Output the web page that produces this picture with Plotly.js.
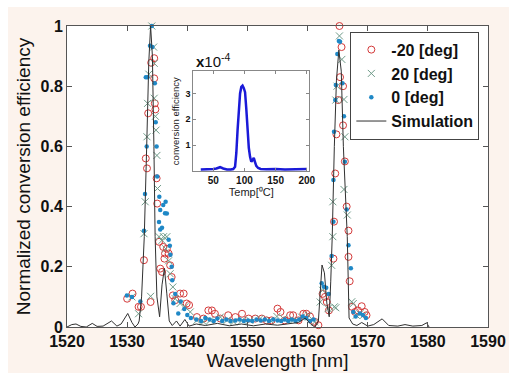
<!DOCTYPE html>
<html><head><meta charset="utf-8">
<script src="https://cdn.plot.ly/plotly-3.0.1.min.js"></script>
<style>html,body{margin:0;padding:0;background:#fff}#c{width:509px;height:373px}</style>
</head><body><div id="c"></div>
<script>
// Simulation curve
const simWl = [1520,1520.8,1521.5,1522.3,1523.2,1524.2,1525.0,1526.0,1527.4,1528.3,1529.0,1530.1,1530.8,1531.3,1531.8,1532.0,1532.4,1532.85,1533.25,1533.6,1533.9,1534.2,1534.45,1534.65,1534.95,1535.4,1535.8,1536.2,1536.6,1537.0,1537.5,1538.2,1538.8,1539.6,1540.3,1541.5,1543,1545,1547,1549,1551,1553,1555,1557,1558.5,1559.6,1560.5,1561.2,1561.8,1562.4,1562.8,1563.2,1563.6,1563.85,1564.1,1564.45,1564.8,1565.2,1565.6,1565.95,1566.6,1566.9,1567.5,1568.2,1569.0,1570.0,1571.0,1572.4,1573.5,1575.0,1576.2,1577.5,1579.0,1579.8,1580.2];
const simVal = [0,0.008,0.01,0.002,0.0,0.012,0.002,0.003,0.02,0.003,0.01,0.045,0.015,0.0,0.01,0.02,0.1,0.3,0.6,0.88,1.0,0.9,0.6,0.3,0.1,0.034,0.14,0.195,0.11,0.02,0.005,0.02,0.003,0.025,0.003,0.01,0.005,0.012,0.004,0.01,0.004,0.01,0.006,0.012,0.015,0.03,0.01,0.0,0.02,0.206,0.18,0.08,0.034,0.15,0.3,0.6,0.82,0.92,0.85,0.6,0.3,0.03,0.01,0.005,0.015,0.003,0.008,0.027,0.005,0.003,0.008,0.003,0.005,0.014,0.0];

// -20 deg (red circles)
const wlM20 = [1530.0,1530.9,1531.9,1532.3,1532.8,1533.1,1533.3,1533.5,1533.9,1534.0,1534.5,1534.5,1534.6,1534.7,1534.9,1535.0,1535.3,1535.5,1535.8,1536.0,1536.2,1536.3,1536.6,1536.9,1537.15,1537.4,1537.6,1538.0,1538.8,1539.4,1539.9,1540.3,1541.6,1542.7,1543.5,1544.1,1544.6,1545.5,1546.8,1548.0,1549.1,1550.2,1551.3,1552.4,1553.2,1554.0,1555.0,1555.5,1556.2,1557.1,1557.6,1558.5,1559.3,1559.8,1560.4,1561.2,1561.8,1562.5,1562.9,1563.2,1563.55,1564.3,1564.4,1564.6,1564.8,1565.1,1565.3,1565.4,1565.65,1565.9,1565.9,1566.2,1566.5,1566.8,1566.8,1567.0,1567.4,1567.9,1568.4,1569.0,1569.5,1569.8];
const valM20 = [0.094,0.111,0.067,0.067,0.222,0.56,0.527,0.71,0.083,0.878,0.893,0.826,0.743,0.723,0.494,0.41,0.283,0.194,0.183,0.266,0.227,0.244,0.26,0.244,0.205,0.166,0.105,0.089,0.111,0.111,0.078,0.073,0.033,0.028,0.055,0.055,0.044,0.028,0.039,0.033,0.044,0.028,0.028,0.028,0.022,0.022,0.061,0.05,0.022,0.039,0.039,0.022,0.044,0.044,0.035,0.017,0.006,0.11,0.10,0.083,0.055,0.227,0.35,0.51,0.64,0.754,1.0,0.83,0.93,0.8,0.67,0.55,0.40,0.32,0.233,0.152,0.067,0.05,0.055,0.069,0.05,0.039];

// 20 deg (grey crosses)
const wlP20 = [1530.8,1531.9,1532.8,1533.0,1533.3,1533.4,1533.6,1533.9,1534.1,1534.4,1534.5,1534.5,1534.7,1534.8,1534.95,1535.05,1535.3,1535.8,1536.05,1536.4,1536.6,1536.9,1537.15,1537.6,1538.0,1538.8,1539.6,1540.5,1541.6,1542.7,1543.8,1545.5,1546.6,1547.7,1549.1,1550.4,1552.1,1553.8,1554.9,1556.0,1557.6,1559.0,1560.1,1561.2,1562.1,1562.5,1563.4,1564.0,1564.2,1564.2,1564.45,1564.7,1564.7,1564.9,1565.3,1565.7,1566.05,1566.05,1566.2,1566.6,1567.35,1567.6,1568.1,1568.7,1569.3];
const valP20 = [0.1,0.044,0.31,0.416,0.632,0.743,0.84,0.102,1.0,0.93,0.876,0.76,0.70,0.654,0.57,0.46,0.30,0.288,0.30,0.26,0.30,0.22,0.177,0.133,0.094,0.078,0.067,0.05,0.022,0.017,0.022,0.033,0.022,0.017,0.022,0.022,0.028,0.022,0.035,0.028,0.022,0.033,0.039,0.017,0.083,0.122,0.061,0.205,0.30,0.416,0.067,0.754,0.064,0.8,0.967,0.889,0.756,0.457,0.632,0.372,0.084,0.078,0.039,0.044,0.039];

// 0 deg (blue dots)
const wl0 = [1529.96,1530.8,1532.2,1532.8,1532.97,1533.25,1533.1,1533.4,1533.8,1534.1,1534.2,1534.6,1534.75,1534.9,1535.0,1535.35,1535.5,1535.3,1535.5,1535.8,1536.0,1536.3,1536.4,1536.6,1536.9,1537.1,1537.2,1537.4,1537.5,1537.7,1538.0,1538.5,1538.9,1539.5,1540.0,1540.6,1541.5,1542.3,1543.0,1543.7,1544.4,1545.0,1545.8,1546.5,1547.2,1548.0,1548.7,1549.4,1550.1,1550.8,1551.5,1552.2,1552.9,1553.6,1554.3,1555.0,1555.6,1556.2,1556.8,1557.4,1558.0,1558.6,1559.2,1559.8,1560.4,1561.0,1562.35,1562.7,1563.1,1563.5,1564.0,1564.3,1564.3,1564.4,1564.6,1564.7,1564.95,1565.2,1565.4,1565.8,1566.05,1566.2,1566.5,1566.8,1567.2,1567.6,1568.0,1568.7,1569.2,1569.7];
const val0 = [0.105,0.1,0.085,0.32,0.442,0.6,0.83,0.83,0.934,1.0,0.93,0.81,0.68,0.6,0.5,0.433,0.389,0.349,0.324,0.33,0.405,0.378,0.416,0.377,0.29,0.27,0.24,0.2,0.155,0.079,0.11,0.045,0.085,0.06,0.04,0.03,0.025,0.02,0.03,0.025,0.02,0.028,0.02,0.025,0.02,0.022,0.025,0.02,0.022,0.02,0.025,0.022,0.025,0.02,0.025,0.022,0.02,0.025,0.02,0.025,0.02,0.025,0.035,0.03,0.02,0.025,0.145,0.134,0.13,0.11,0.236,0.35,0.488,0.649,0.754,0.804,0.907,0.95,0.948,0.81,0.70,0.549,0.39,0.272,0.195,0.05,0.035,0.045,0.04,0.03];

// Inset: conversion efficiency (x1e-4) vs temperature
const temp = [30,40,50,55,61,66,72,78,82,85,87,89,91,93,95,97,99,101,103,105,107,109,111,113,115,117,119,122,126,135,150,165,180,190,200];
const eff  = [0.06,0.06,0.08,0.1,0.15,0.1,0.06,0.06,0.08,0.17,0.7,1.58,2.4,3.0,3.25,3.3,3.2,3.05,2.4,1.58,0.9,0.55,0.36,0.42,0.51,0.35,0.2,0.12,0.08,0.07,0.08,0.06,0.08,0.07,0.08];

const xTicks = [1520,1530,1540,1550,1560,1570,1580,1590];
const yTicks = [0,0.2,0.4,0.6,0.8,1];
const insetXTicks = [50,100,150,200];
const insetYTicks = [1,2,3];

const FONT = 'Liberation Sans, Arial, sans-serif';
const traces = [
  {x: wlM20, y: valM20, type:'scatter', mode:'markers', name:'<b>-20 [deg]</b>', cliponaxis:false,
   marker:{symbol:'circle-open', size:7, color:'#d43a3a', line:{width:1}}},
  {x: wlP20, y: valP20, type:'scatter', mode:'markers', name:'<b>20 [deg]</b>', cliponaxis:false,
   marker:{symbol:'x-thin-open', size:7, color:'#6e9a88', line:{width:1, color:'#6e9a88'}}},
  {x: wl0, y: val0, type:'scatter', mode:'markers', name:'<b>0 [deg]</b>', cliponaxis:false,
   marker:{symbol:'circle', size:4.5, color:'#1f88c6'}},
  {x: simWl, y: simVal, type:'scatter', mode:'lines', name:'<b>Simulation</b>', cliponaxis:false,
   line:{color:'#303030', width:1}},
  {x: temp, y: eff, type:'scatter', mode:'lines', xaxis:'x2', yaxis:'y2', showlegend:false,
   line:{color:'#1a1ad8', width:2.5}}
];

const layout = {
  width:509, height:373,
  margin:{l:67, r:21, t:26, b:46},
  paper_bgcolor:'#fcf3ed', plot_bgcolor:'#ffffff',
  font:{family:FONT, color:'#111'},
  showlegend:true,
  legend:{x:0.673, y:0.981, xanchor:'left', yanchor:'top', bgcolor:'#ffffff', bordercolor:'#444', borderwidth:1,
          font:{size:16, family:FONT, color:'#111'}},
  xaxis:{range:[1520,1590], tickvals:xTicks, ticktext:xTicks.map(String), ticks:'inside', ticklen:5, tickcolor:'#555',
         showline:true, linecolor:'#555', mirror:'ticks', showgrid:false, zeroline:false,
         tickfont:{size:16, family:FONT, weight:'bold', color:'#111'},
         title:{text:'Wavelength [nm]', font:{size:19, family:FONT, color:'#111'}, standoff:4}},
  yaxis:{range:[0,1], tickvals:yTicks, ticktext:yTicks.map(String), ticks:'inside', ticklen:5, tickcolor:'#555',
         showline:true, linecolor:'#555', mirror:'ticks', showgrid:false, zeroline:false,
         tickfont:{size:16, family:FONT, weight:'bold', color:'#111'},
         title:{text:'Normalized conversion efficiency', font:{size:19, family:FONT, color:'#111'}, standoff:4}},
  xaxis2:{domain:[0.300,0.5755], anchor:'y2', range:[18,204], tickvals:insetXTicks, ticks:'inside', ticklen:3, tickcolor:'#888',
          showline:true, linecolor:'#888', mirror:'ticks', showgrid:false, zeroline:false,
          tickfont:{size:10, family:FONT, weight:'bold', color:'#111'},
          title:{text:'Temp[⁰C]', font:{size:11, family:FONT, color:'#222'}, standoff:2}},
  yaxis2:{domain:[0.518,0.850], anchor:'x2', range:[0,3.86], tickvals:insetYTicks, ticks:'inside', ticklen:3, tickcolor:'#888',
          showline:true, linecolor:'#888', mirror:'ticks', showgrid:false, zeroline:false,
          tickfont:{size:9, family:FONT, weight:'bold', color:'#111'},
          title:{text:'conversion efficiency', font:{size:9.5, family:FONT, color:'#222'}, standoff:4}},
  shapes:[
    {type:'rect', xref:'paper', yref:'paper', x0:-0.2, x1:1.1, y0:1.063, y1:1.2, fillcolor:'#ffffff', line:{width:0}, layer:'below'},
    {type:'rect', xref:'paper', yref:'paper', x0:-0.2, x1:-0.1401, y0:-0.2, y1:1.2, fillcolor:'#ffffff', line:{width:0}, layer:'below'}
  ],
  annotations:[
    {xref:'paper', yref:'paper', x:0.302, y:0.887, xanchor:'left', yanchor:'middle', showarrow:false,
     text:'<b>x</b>10<sup>-4</sup>', font:{size:15, family:FONT, color:'#111'}}
  ]
};
Plotly.newPlot('c', traces, layout, {displayModeBar:false, staticPlot:true});
</script></body></html>
